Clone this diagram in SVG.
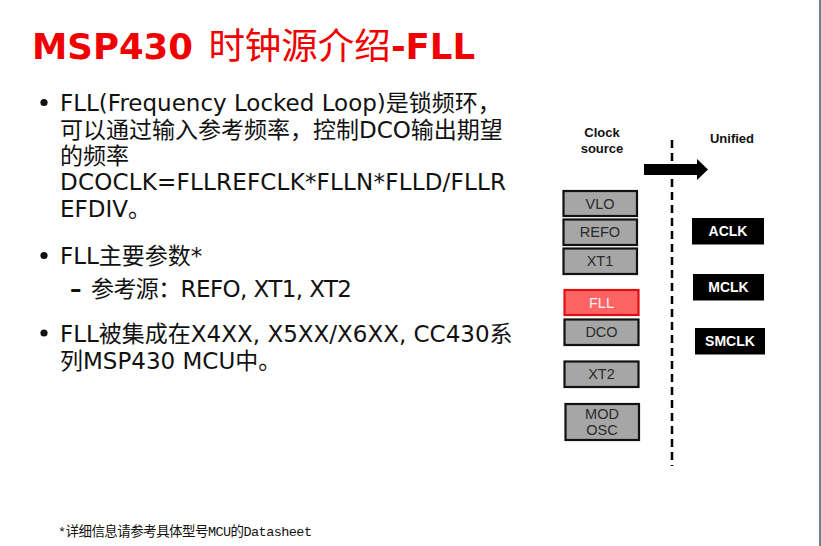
<svg xmlns="http://www.w3.org/2000/svg" width="821" height="546" viewBox="0 0 821 546">
<style>
.body{font-family:'DejaVu Sans','Noto Sans CJK SC',sans-serif;font-size:23px;fill:#111;}
.box{fill:#a6a6a6;stroke:#111;stroke-width:2.2;}
.boxt{font-family:'Liberation Sans',Arial,sans-serif;font-size:14.5px;fill:#2a2a2a;text-anchor:middle;}
.clk{fill:#000;}
.clkt{font-family:'Liberation Sans',Arial,sans-serif;font-size:14px;font-weight:bold;fill:#fff;text-anchor:middle;}
.hdr{font-family:'Liberation Sans',Arial,sans-serif;font-size:13px;font-weight:bold;fill:#111;text-anchor:middle;}
</style>
<rect x="0" y="0" width="821" height="546" fill="#ffffff"/>
<line x1="820" y1="0" x2="820" y2="546" stroke="#46627c" stroke-width="1.6"/>

<g id="title">
<text x="32" y="59" font-family="'DejaVu Sans','Noto Sans CJK SC',sans-serif" font-size="35.5" font-weight="bold" fill="#f00000">MSP430 <tspan dx="3" font-weight="normal" font-size="36.5">时钟源介绍</tspan>-FLL</text>
</g>

<g id="bullets">
<circle cx="44" cy="102.5" r="3.6" fill="#111"/>
<text class="body" x="60" y="111">FLL(Frequency Locked Loop)是锁频环，</text>
<text class="body" x="60" y="137.5">可以通过输入参考频率，控制DCO输出期望</text>
<text class="body" x="60" y="164">的频率</text>
<text class="body" x="60" y="190" textLength="446">DCOCLK=FLLREFCLK*FLLN*FLLD/FLLR</text>
<text class="body" x="60" y="217">EFDIV。</text>

<circle cx="44" cy="255.5" r="3.6" fill="#111"/>
<text class="body" x="60" y="264">FLL主要参数*</text>
<text class="body" x="70" y="297.3" font-size="21" font-weight="bold">–</text>
<text class="body" x="91" y="297.3" font-size="21" textLength="261">参考源：REFO, XT1, XT2</text>

<circle cx="44" cy="333" r="3.6" fill="#111"/>
<text class="body" x="60" y="341.7">FLL被集成在X4XX, X5XX/X6XX, CC430系</text>
<text class="body" x="60" y="368.5">列MSP430 MCU中。</text>
</g>

<g id="footnote">
<text x="58" y="536" font-family="'Liberation Mono','Noto Sans CJK SC',monospace" font-size="13.5" fill="#111" textLength="254">*详细信息请参考具体型号MCU的Datasheet</text>
</g>

<g id="headers">
<text class="hdr" x="602" y="137">Clock</text>
<text class="hdr" x="602" y="153">source</text>
<text class="hdr" x="732" y="143">Unified</text>
</g>

<g id="connectors">
<line x1="672" y1="140" x2="672" y2="466" stroke="#000" stroke-width="2.5" stroke-dasharray="8 5"/>
<polygon points="644,164 697,164 697,159 708,169.5 697,180 697,175 644,175" fill="#000"/>
</g>

<g id="node-vlo"><rect class="box" x="563.5" y="191" width="73.5" height="25"/><text class="boxt" x="600" y="208.5">VLO</text></g>
<g id="node-refo"><rect class="box" x="563.5" y="219.5" width="73.5" height="25.5"/><text class="boxt" x="600" y="237">REFO</text></g>
<g id="node-xt1"><rect class="box" x="563.5" y="248.5" width="73.5" height="25.5"/><text class="boxt" x="600" y="266">XT1</text></g>
<g id="node-fll"><rect x="564.5" y="290" width="74" height="25" fill="#ff6464" stroke="#e01010" stroke-width="2.2"/><text class="boxt" x="601.5" y="307.5" style="fill:#fff0f0">FLL</text></g>
<g id="node-dco"><rect class="box" x="564.5" y="319.5" width="74" height="25.5"/><text class="boxt" x="601.5" y="337">DCO</text></g>
<g id="node-xt2"><rect class="box" x="564.5" y="361.5" width="74" height="25.5"/><text class="boxt" x="601.5" y="379">XT2</text></g>
<g id="node-modosc"><rect class="box" x="565.5" y="404" width="73.5" height="36"/><text class="boxt" x="602" y="418.5">MOD</text><text class="boxt" x="602" y="435">OSC</text></g>

<g id="node-aclk"><rect class="clk" x="692" y="218" width="72" height="26.5"/><text class="clkt" x="728" y="236">ACLK</text></g>
<g id="node-mclk"><rect class="clk" x="693" y="274" width="71" height="26.5"/><text class="clkt" x="728.5" y="292">MCLK</text></g>
<g id="node-smclk"><rect class="clk" x="695" y="328" width="70" height="26.5"/><text class="clkt" x="730" y="346">SMCLK</text></g>
</svg>
